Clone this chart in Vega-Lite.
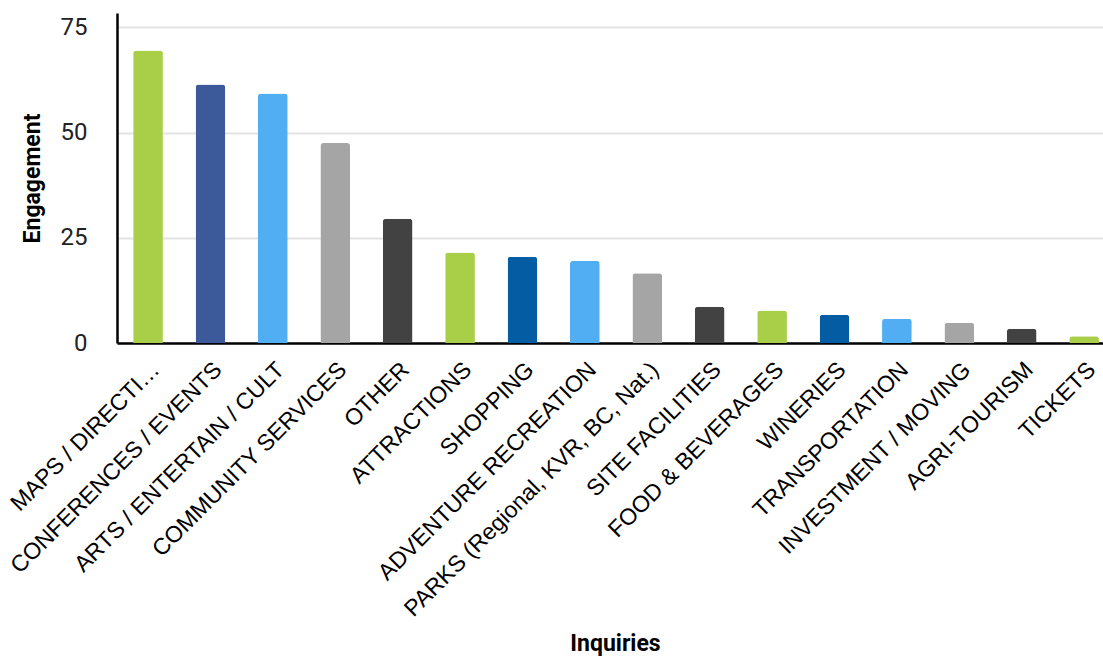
{
  "$schema": "https://vega.github.io/schema/vega-lite/v6.json",
  "width": 986,
  "height": 330,
  "autosize": {"type": "none"},
  "padding": {"left": 117, "top": 13, "right": 0, "bottom": 313},
  "background": "white",
  "data": {
    "values": [
      {"inquiry": "MAPS / DIRECTI…", "engagement": 69.5},
      {"inquiry": "CONFERENCES / EVENTS", "engagement": 61.4},
      {"inquiry": "ARTS / ENTERTAIN / CULT", "engagement": 59.3},
      {"inquiry": "COMMUNITY SERVICES", "engagement": 47.5},
      {"inquiry": "OTHER", "engagement": 29.5},
      {"inquiry": "ATTRACTIONS", "engagement": 21.5},
      {"inquiry": "SHOPPING", "engagement": 20.5},
      {"inquiry": "ADVENTURE RECREATION", "engagement": 19.5},
      {"inquiry": "PARKS (Regional, KVR, BC, Nat.)", "engagement": 16.6},
      {"inquiry": "SITE FACILITIES", "engagement": 8.6},
      {"inquiry": "FOOD & BEVERAGES", "engagement": 7.7},
      {"inquiry": "WINERIES", "engagement": 6.7},
      {"inquiry": "TRANSPORTATION", "engagement": 5.75},
      {"inquiry": "INVESTMENT / MOVING", "engagement": 4.8},
      {"inquiry": "AGRI-TOURISM", "engagement": 3.4},
      {"inquiry": "TICKETS", "engagement": 1.6}
    ]
  },
  "mark": {"type": "bar", "cornerRadiusEnd": 3},
  "encoding": {
    "x": {
      "field": "inquiry",
      "type": "nominal",
      "sort": null,
      "scale": {"paddingInner": 0.524, "paddingOuter": 0.162, "align": 0.8},
      "axis": {
        "title": "Inquiries",
        "titleFont": "Roboto",
        "titleFontSize": 23,
        "titleFontWeight": "bold",
        "titleColor": "#000000",
        "titleY": 307,
        "titleX": 498,
        "titleBaseline": "alphabetic",
        "labelAngle": -45,
        "labelFont": "Liberation Sans",
        "labelFontSize": 23,
        "labelColor": "#000000",
        "labelPadding": 15,
        "labelLimit": 500,
        "labelOffset": 0,
        "tickSize": 0,
        "domainColor": "#000000",
        "domainWidth": 2.5,
        "grid": false
      }
    },
    "y": {
      "field": "engagement",
      "type": "quantitative",
      "scale": {"domain": [0, 78.4], "nice": false},
      "axis": {
        "title": "Engagement",
        "titleFont": "Roboto",
        "titleFontSize": 23,
        "titleFontWeight": "bold",
        "titleColor": "#000000",
        "titlePadding": 16,
        "values": [0, 25, 50, 75],
        "labelFont": "Roboto",
        "labelFontSize": 24,
        "labelColor": "#222222",
        "labelPadding": 30,
        "tickSize": 0,
        "domainColor": "#000000",
        "domainWidth": 2.5,
        "gridColor": "#E3E3E3",
        "gridWidth": 2
      }
    },
    "color": {
      "field": "inquiry",
      "type": "nominal",
      "legend": null,
      "scale": {
        "domain": ["MAPS / DIRECTI…", "CONFERENCES / EVENTS", "ARTS / ENTERTAIN / CULT", "COMMUNITY SERVICES", "OTHER", "ATTRACTIONS", "SHOPPING", "ADVENTURE RECREATION", "PARKS (Regional, KVR, BC, Nat.)", "SITE FACILITIES", "FOOD & BEVERAGES", "WINERIES", "TRANSPORTATION", "INVESTMENT / MOVING", "AGRI-TOURISM", "TICKETS"],
        "range": ["#A9CE48", "#3C5A99", "#52AEF3", "#A5A5A5", "#424242", "#A9CE48", "#045DA2", "#52AEF3", "#A5A5A5", "#424242", "#A9CE48", "#045DA2", "#52AEF3", "#A5A5A5", "#424242", "#A9CE48"]
      }
    }
  },
  "config": {"view": {"stroke": null}}
}
